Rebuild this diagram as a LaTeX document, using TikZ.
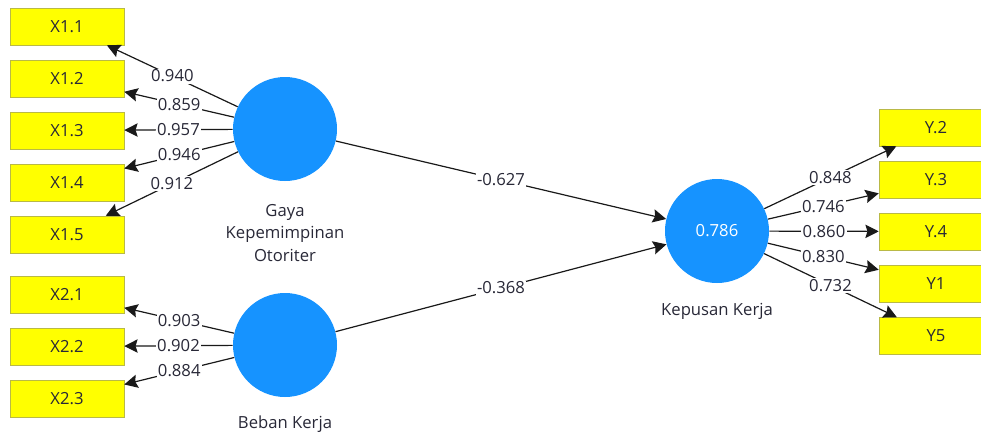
\documentclass[tikz,border=0pt]{standalone}
\usepackage{fontspec}
\setmainfont{Open Sans}
\usetikzlibrary{arrows.meta,positioning}
\definecolor{lvblue}{RGB}{22,147,255}
\definecolor{mvyellow}{RGB}{255,255,0}
\definecolor{mvborder}{RGB}{185,185,70}
\definecolor{txtgray}{RGB}{40,40,55}
\tikzset{
  mv/.style={draw=mvborder, fill=mvyellow, minimum width=85.5pt, minimum height=27.75pt,
    inner sep=0pt, text=txtgray, font=\fontsize{12.5}{14}\selectfont},
  lv/.style={circle, fill=lvblue, minimum size=78pt, inner sep=0pt, text=white,
    font=\fontsize{12.5}{14}\selectfont},
  lvname/.style={align=center, text=txtgray, font=\fontsize{12.5}{17}\selectfont},
  coef/.style={fill=white, inner sep=1pt, text=txtgray, font=\fontsize{12.5}{14}\selectfont},
  load/.style={-{Stealth[length=10pt,width=10pt,inset=1.5pt]}, line width=0.9pt, draw=black!90}
}

\begin{document}
\begin{tikzpicture}[x=0.75pt, y=-0.75pt]
\useasboundingbox (0,0) rectangle (981,437);

% latent variables
\node[lv] (gaya) at (285,129) {};
\node[lv] (beban) at (285,345) {};
\node[lv] (kepusan) at (717,231) {0.786};
\node[lvname] (gayatxt) at (285,233) {Gaya\\Kepemimpinan\\Otoriter};
\node[lvname] (bebantxt) at (285,424) {Beban Kerja};
\node[lvname] (kepusantxt) at (717,311) {Kepusan Kerja};

% indicators X1
\foreach \i/\v in {1/0.940, 2/0.859, 3/0.957, 4/0.946, 5/0.912} {
  \node[mv] (x1\i) at (67, 26.5+52*\i-52) {X1.\i};
  \draw[load] (gaya) -- (x1\i) node[coef, midway] {\v};
}
% indicators X2
\foreach \i/\v in {1/0.903, 2/0.902, 3/0.884} {
  \node[mv] (x2\i) at (67, 294.5+52*\i-52) {X2.\i};
  \draw[load] (beban) -- (x2\i) node[coef, midway] {\v};
}
% indicators Y
\foreach \n/\t/\y/\v in {a/Y.2/127.5/0.848, b/Y.3/180/0.746, c/Y.4/231.5/0.860, d/Y1/283.5/0.830, e/Y5/336/0.732} {
  \node[mv] (y\n) at (936,\y) {\t};
  \draw[load] (kepusan) -- (y\n) node[coef, midway] {\v};
}

% paths
\draw[load] (gaya) -- (kepusan) node[coef, midway] {-0.627};
\draw[load] (beban) -- (kepusan) node[coef, midway] {-0.368};
\end{tikzpicture}
\end{document}
